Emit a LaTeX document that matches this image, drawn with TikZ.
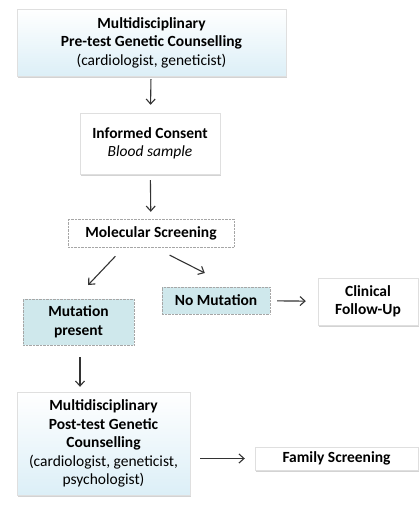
\documentclass[tikz,border=0pt]{standalone}
\usepackage{fontspec}
\setmainfont{Carlito}
\usetikzlibrary{arrows.meta,shadows}

\definecolor{paleblue}{HTML}{DCEFF7}
\definecolor{tealbox}{HTML}{CFE8EC}
\definecolor{arrowgray}{HTML}{333333}

\tikzset{
    box/.style={draw=gray!25, fill=white, align=center, inner sep=0pt,
        font=\fontsize{15.5}{18.5}\selectfont,
        drop shadow={shadow xshift=1pt, shadow yshift=-1.5pt, opacity=0.35}},
    bluebox/.style={box, top color=white, bottom color=paleblue},
    dotbox/.style={draw=gray!70, densely dotted, align=center, inner sep=0pt,
        font=\fontsize{15.5}{18.5}\selectfont},
    flow/.style={draw=arrowgray, line width=1.1pt, -{Straight Barb[length=5pt,width=9pt]}}
}

\begin{document}
\begin{tikzpicture}[x=1pt, y=-1pt]
        \useasboundingbox (0,0) rectangle (419,509);

        % Counselling prima del test
        \node[bluebox, minimum width=269, minimum height=67] (pre) at (151.5,42.5)
            {\textbf{Multidisciplinary}\\ \textbf{Pre-test Genetic Counselling}\\ (cardiologist, geneticist)};

        % Consenso
        \node[box, minimum width=140, minimum height=61] (consent) at (150,143.5)
            {\textbf{Informed Consent}\\ \textit{Blood sample}};

        % Screening
        \node[dotbox, fill=white, minimum width=166, minimum height=28] (screen) at (151,233)
            {\textbf{Molecular Screening}};

        % Esiti
        \node[dotbox, fill=tealbox, minimum width=108, minimum height=27] (nomut) at (216,300.5)
            {\textbf{No Mutation}};
        \node[box, minimum width=100, minimum height=47] (followup) at (368,301.5)
            {\textbf{Clinical}\\ \textbf{Follow-Up}};
        \node[dotbox, fill=tealbox, minimum width=111, minimum height=46] (mutation) at (78.5,322)
            {\textbf{Mutation}\\ \textbf{present}};

        % Counselling dopo il test
        \node[bluebox, minimum width=173, minimum height=103] (post) at (103.5,443.5)
            {\textbf{Multidisciplinary}\\ \textbf{Post-test Genetic}\\ \textbf{Counselling}\\
             (cardiologist, geneticist,\\ psychologist)};
        \node[box, minimum width=163, minimum height=23] (family) at (336.5,458.5)
            {\textbf{Family Screening}};

        % Frecce
        \draw[flow, shorten <=3pt, shorten >=8pt] (pre) -- (consent);
        \draw[flow, shorten <=6pt, shorten >=7pt] (consent) -- (screen);
        \draw[flow, shorten <=12.5pt, shorten >=19pt] ([xshift=-27pt]screen.south) -- ([xshift=-3.5pt]mutation.north);
        \draw[flow, shorten <=17.5pt, shorten >=30.5pt] ([xshift=3pt]screen.south) -- ([xshift=16pt]nomut.north);
        \draw[flow, shorten <=7pt, shorten >=12pt] (nomut) -- (followup);
        \draw[flow, shorten <=12pt, shorten >=5pt] ([xshift=1.5pt]mutation.south) -- ([xshift=1.5pt]mutation.south |- post.north);
        \draw[flow, shorten <=10pt, shorten >=10pt] (post.east |- family) -- (family);
    \end{tikzpicture}
\end{document}
